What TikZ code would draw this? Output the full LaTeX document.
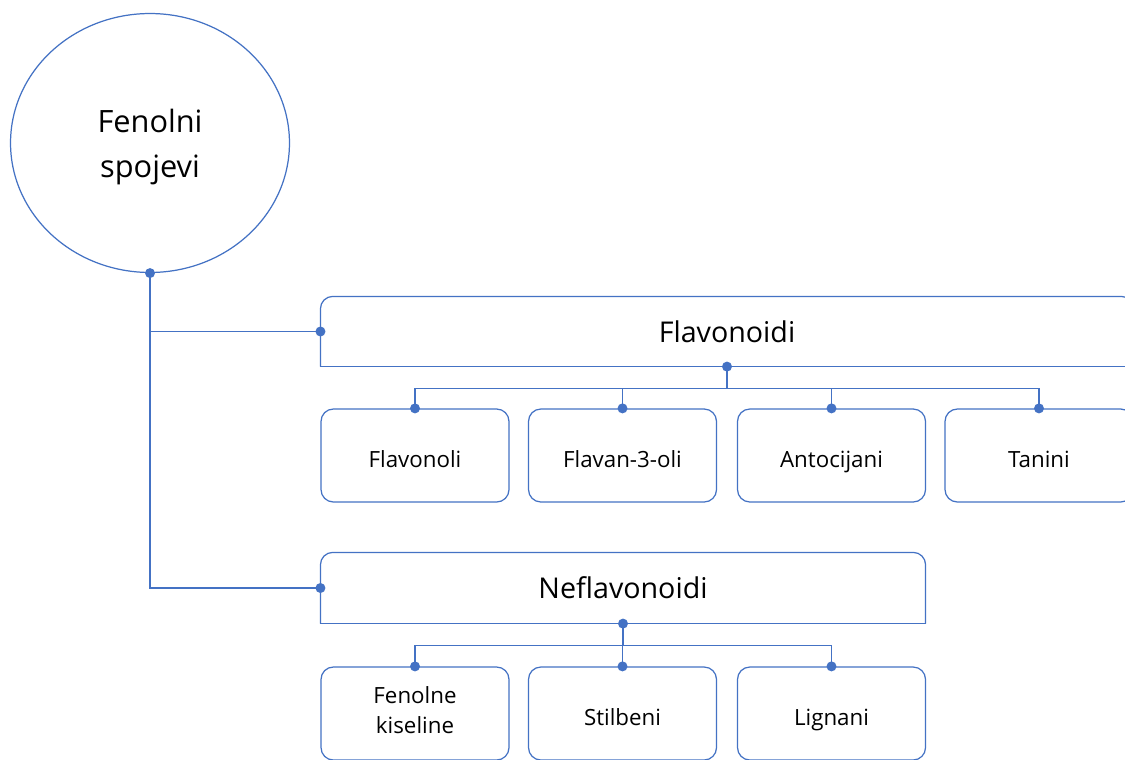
\documentclass[tikz,border=0pt]{standalone}
\usepackage{fontspec}
\setmainfont{Open Sans}
\usepackage{tikz}
\usetikzlibrary{shapes.geometric}
\definecolor{lineblue}{HTML}{4472C4}

\begin{document}
\begin{tikzpicture}[x=0.02cm,y=-0.02cm,line width=0.7pt,
  root/.style={ellipse,draw=lineblue,inner sep=0pt,minimum width=5.58cm,minimum height=5.18cm,
    align=center,font=\fontsize{17.5}{25.5}\selectfont},
  head/.style={rectangle,inner sep=0pt,font=\fontsize{16.3}{20}\selectfont},
  leaf/.style={rectangle,draw=lineblue,rounded corners=7pt,minimum width=3.76cm,minimum height=1.86cm,
    inner sep=0pt,align=center,font=\fontsize{12.7}{17.5}\selectfont,
    execute at begin node={\rule{0pt}{18pt}},execute at end node={\rule[-4pt]{0pt}{4pt}}},
  link/.style={draw=lineblue},
  joint/.style={fill=lineblue}]
\clip (0,0) rectangle (1125,760);
\fill[white] (0,0) rectangle (1125,760);

\node[root] (fen) at (150,143) {\strut Fenolni\\spojevi};

% two header bars, rounded on top only
\node[head,minimum width=16.24cm,minimum height=1.38cm] (fl) at (727,331.5) {Flavonoidi};
\draw[lineblue,rounded corners=7pt] (fl.south west) -- (fl.north west) -- (fl.north east) -- (fl.south east);
\draw[lineblue] (fl.south west) -- (fl.south east);
\node[head,minimum width=12.08cm,minimum height=1.4cm] (nf) at (623,588) {Neflavonoidi};
\draw[lineblue,rounded corners=7pt] (nf.south west) -- (nf.north west) -- (nf.north east) -- (nf.south east);
\draw[lineblue] (nf.south west) -- (nf.south east);

\node[leaf] (fl1) at (415,455.5) {Flavonoli};
\node[leaf] (fl2) at (622.5,455.5) {Flavan-3-oli};
\node[leaf] (fl3) at (831.5,455.5) {Antocijani};
\node[leaf] (fl4) at (1039,455.5) {Tanini};
\node[leaf] (nf1) at (415,713.5) {Fenolne\\kiseline};
\node[leaf] (nf2) at (622.5,713.5) {Stilbeni};
\node[leaf] (nf3) at (831.5,713.5) {Lignani};

\draw[link] (fen.south) |- (fl.west);
\draw[link] (fen.south) |- (nf.west);
\foreach \n in {fl1,fl2,fl3,fl4}
  \draw[link] (fl.south) -- ++(0,22) -| (\n.north);
\foreach \n in {nf1,nf2,nf3}
  \draw[link] (nf.south) -- ++(0,22) -| (\n.north);

\foreach \p in {fen.south,fl.west,fl.south,nf.west,nf.south,fl1.north,fl2.north,fl3.north,fl4.north,nf1.north,nf2.north,nf3.north}
  \fill[joint] (\p) circle[radius=0.1cm];
\end{tikzpicture}
\end{document}
